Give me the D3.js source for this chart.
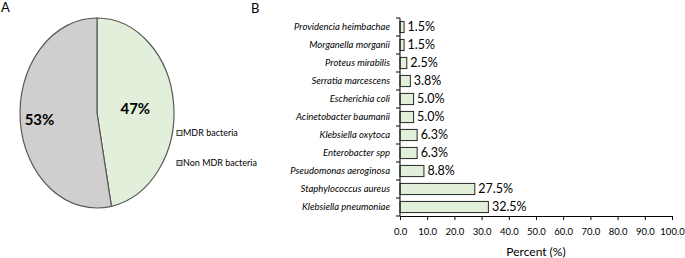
<!DOCTYPE html>
<html>
<head>
<meta charset="utf-8">
<script src="https://cdn.jsdelivr.net/npm/d3@7"></script>
<style>
  body { margin: 0; background: #fff; }
  svg { display: block; font-family: Lato, "Open Sans", sans-serif; }
  .axis path, .axis line { stroke: #000; }
  .axis text { fill: #000; }
</style>
</head>
<body>
<svg id="chart" width="685" height="258"></svg>
<script>
// panel A
const pieLabels = ['MDR bacteria', 'Non MDR bacteria'];
const pieValues = [47, 53];
const pieColors = ['#e2efda', '#d0cece'];

// panel B
const species = [
  'Providencia heimbachae', 'Morganella morganii', 'Proteus mirabilis',
  'Serratia marcescens', 'Escherichia coli', 'Acinetobacter baumanii',
  'Klebsiella oxytoca', 'Enterobacter spp', 'Pseudomonas aeroginosa',
  'Staphylococcus aureus', 'Klebsiella pneumoniae'
];
const percents = [1.5, 1.5, 2.5, 3.8, 5.0, 5.0, 6.3, 6.3, 8.8, 27.5, 32.5];
const xTicks = [0, 10, 20, 30, 40, 50, 60, 70, 80, 90, 100];

const svg = d3.select('#chart');

// ---------- A: pie (drawn as an ellipse, like the original) ----------
const cx = 97, cy = 113, rx = 77, ry = 95;
const r = 100;
const labelFrac = [0.5, 0.75];

svg.append('text').attr('x', 1).attr('y', 12)
  .attr('font-size', 13).text('A');

const pie = d3.pie().sort(null)(pieValues);
const arc = d3.arc().innerRadius(0).outerRadius(r);

const pieG = svg.append('g')
  .attr('transform', `translate(${cx},${cy}) scale(${rx / r},${ry / r})`);

pieG.selectAll('path')
  .data(pie)
  .enter()
  .append('path')
  .attr('d', arc)
  .attr('fill', (d, i) => pieColors[i])
  .attr('stroke', '#595959')
  .attr('stroke-width', 1.2)
  .attr('vector-effect', 'non-scaling-stroke');

svg.selectAll('.pie-label')
  .data(pie)
  .enter()
  .append('text')
  .attr('class', 'pie-label')
  .attr('x', (d, i) => cx + Math.sin((d.startAngle + d.endAngle) / 2) * rx * labelFrac[i])
  .attr('y', (d, i) => cy - Math.cos((d.startAngle + d.endAngle) / 2) * ry * labelFrac[i])
  .attr('dy', '0.35em')
  .attr('text-anchor', 'middle')
  .attr('font-size', 15)
  .attr('font-weight', 'bold')
  .text(d => d.data + '%');

const legend = svg.selectAll('.legend')
  .data(pieLabels)
  .enter()
  .append('g')
  .attr('class', 'legend')
  .attr('transform', (d, i) => `translate(177,${133 + i * 30})`);

legend.append('rect')
  .attr('x', 0).attr('y', -2.5)
  .attr('width', 5).attr('height', 5)
  .attr('fill', (d, i) => pieColors[i])
  .attr('stroke', '#404040');

legend.append('text')
  .attr('x', 6).attr('dy', '0.35em')
  .attr('font-size', 9)
  .text(d => d);

// ---------- B: horizontal bars ----------
const plotL = 400, plotR = 672, plotT = 18, plotB = 216;

svg.append('text').attr('x', 251).attr('y', 13)
  .attr('font-size', 13).text('B');

const x = d3.scaleLinear().domain([0, 100]).range([plotL, plotR]);
const y = d3.scaleBand().domain(species).range([plotT, plotB]).paddingInner(0.38).paddingOuter(0.19);

svg.selectAll('.bar')
  .data(species)
  .enter()
  .append('rect')
  .attr('class', 'bar')
  .attr('x', x(0))
  .attr('y', d => y(d))
  .attr('width', (d, i) => x(percents[i]) - x(0))
  .attr('height', y.bandwidth())
  .attr('fill', '#e2efda')
  .attr('stroke', '#262626')
  .attr('stroke-width', 1);

svg.selectAll('.val')
  .data(species)
  .enter()
  .append('text')
  .attr('class', 'val')
  .attr('x', (d, i) => x(percents[i]) + 3.5)
  .attr('y', d => y(d) + y.bandwidth() / 2)
  .attr('dy', '0.35em')
  .attr('font-size', 12.5)
  .text((d, i) => percents[i].toFixed(1) + '%');

// y axis: ticks between categories, labels in italics
const step = y.step();
const yAxis = svg.append('g').attr('class', 'axis')
  .attr('transform', `translate(${plotL},0)`);
yAxis.append('line').attr('y1', plotT).attr('y2', plotB);
yAxis.selectAll('.yt')
  .data(d3.range(species.length + 1))
  .enter()
  .append('line')
  .attr('x1', -4).attr('x2', 0)
  .attr('y1', i => plotT + i * step)
  .attr('y2', i => plotT + i * step);
yAxis.selectAll('.yl')
  .data(species)
  .enter()
  .append('text')
  .attr('x', -10)
  .attr('y', d => y(d) + y.bandwidth() / 2)
  .attr('dy', '0.35em')
  .attr('text-anchor', 'end')
  .attr('font-size', 9.5)
  .attr('font-style', 'italic')
  .text(d => d);

const xAxis = svg.append('g').attr('class', 'axis')
  .attr('transform', `translate(0,${plotB})`)
  .call(d3.axisBottom(x).tickValues(xTicks).tickFormat(d3.format('.1f')).tickSize(4).tickSizeOuter(0))
  .attr('font-family', null)
  .attr('font-size', 9.5);
xAxis.selectAll('text').attr('dy', '1.25em');

svg.append('text')
  .attr('x', (plotL + plotR) / 2)
  .attr('y', 256)
  .attr('text-anchor', 'middle')
  .attr('font-size', 12)
  .text('Percent (%)');
</script>
</body>
</html>
